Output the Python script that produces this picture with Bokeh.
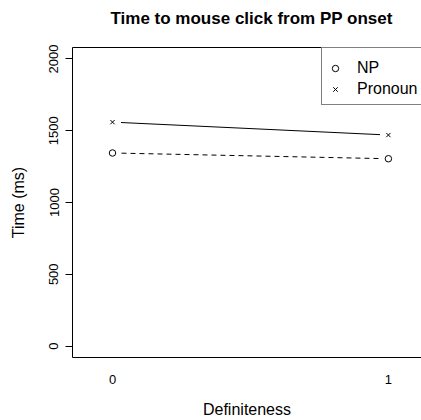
from bokeh.embed import file_html
from bokeh.resources import INLINE
from bokeh.plotting import figure
from bokeh.models import (ColumnDataSource, Range1d, FixedTicker, LinearAxis,
                          Legend, LegendItem, Title)

# Mean time (ms) to mouse click from PP onset, by definiteness level
definiteness = [0, 1]
np_times = [1345, 1305]
pronoun_times = [1560, 1470]
series_names = ["NP", "Pronoun"]
y_ticks = [0, 500, 1000, 1500, 2000]
x_ticks = [0, 1]
heading = "Time to mouse click from PP onset"

FONT = "Liberation Sans"

p = figure(width=421, height=420, frame_width=349, frame_height=310,
           output_backend="svg", toolbar_location=None,
           x_range=Range1d(-0.145, 1.12), y_range=Range1d(-80, 2080),
           min_border_left=72, min_border_right=0,
           min_border_top=47, min_border_bottom=63)

p.background_fill_color = "white"
p.border_fill_color = "white"
p.outline_line_color = None
p.xgrid.grid_line_color = None
p.ygrid.grid_line_color = None

xa = p.below[0]
ya = p.left[0]

# top edge of the box (right edge runs off the page)
top = LinearAxis(ticker=FixedTicker(ticks=[]), major_tick_out=0,
                 major_tick_in=0, minor_tick_out=0, minor_tick_in=0,
                 axis_line_color="black", major_label_text_font_size="0px")
p.add_layout(top, "above")

# blank gap between the box and the heading
p.add_layout(Title(text=" ", text_font_size="2px", standoff=11), "above")

title = Title(text=heading, align="left",
              text_font=FONT, text_font_size="17px", text_font_style="bold",
              text_color="black", offset=38)
p.add_layout(title, "above")

np_src = ColumnDataSource(dict(x=definiteness, y=np_times))
pr_src = ColumnDataSource(dict(x=definiteness, y=pronoun_times))

# connecting lines, with a white halo around each point (type "b" look)
p.line("x", "y", source=pr_src, line_color="black", line_width=1)
p.line("x", "y", source=np_src, line_color="black", line_width=1,
       line_dash="5 4")
p.scatter("x", "y", source=pr_src, marker="circle", size=17,
          fill_color="white", line_color=None)
p.scatter("x", "y", source=np_src, marker="circle", size=17,
          fill_color="white", line_color=None)

np_pts = p.scatter("x", "y", source=np_src, marker="circle", size=6.5,
                   fill_color=None, line_color="black", line_width=1)
pr_pts = p.scatter("x", "y", source=pr_src, marker="x", size=6,
                   line_color="black", line_width=1)

# axes
xa.ticker = FixedTicker(ticks=x_ticks)
xa.axis_label = "Definiteness"
xa.major_tick_out = 0
xa.major_tick_in = 0
xa.minor_tick_out = 0
xa.minor_tick_in = 0
xa.major_label_standoff = 17
xa.axis_label_standoff = 14

ya.ticker = FixedTicker(ticks=y_ticks)
ya.axis_label = "Time (ms)"
ya.major_tick_out = 7
ya.major_tick_in = 0
ya.minor_tick_out = 0
ya.minor_tick_in = 0
ya.major_label_orientation = "vertical"
ya.major_label_standoff = 7
ya.axis_label_standoff = 20

for ax in (xa, ya):
    ax.axis_line_color = "black"
    ax.major_tick_line_color = "black"
    ax.major_label_text_font = FONT
    ax.major_label_text_font_size = "13px"
    ax.major_label_text_color = "black"
    ax.axis_label_text_font = FONT
    ax.axis_label_text_font_size = "16px"
    ax.axis_label_text_font_style = "normal"
    ax.axis_label_text_color = "black"

legend = Legend(items=[LegendItem(label=series_names[0], renderers=[np_pts]),
                       LegendItem(label=series_names[1], renderers=[pr_pts])],
                location=(249, 252), orientation="vertical",
                title=" ", title_text_font_size="3px", title_standoff=0,
                padding=5, spacing=-2, margin=0,
                glyph_width=16, glyph_height=16, label_height=21,
                label_width=120, label_standoff=14,
                label_text_font=FONT, label_text_font_size="16px",
                label_text_color="black",
                border_line_color="black", border_line_width=1,
                background_fill_color="white", background_fill_alpha=1)
p.add_layout(legend, "center")

open("out.html", "w").write(file_html(p, INLINE))
